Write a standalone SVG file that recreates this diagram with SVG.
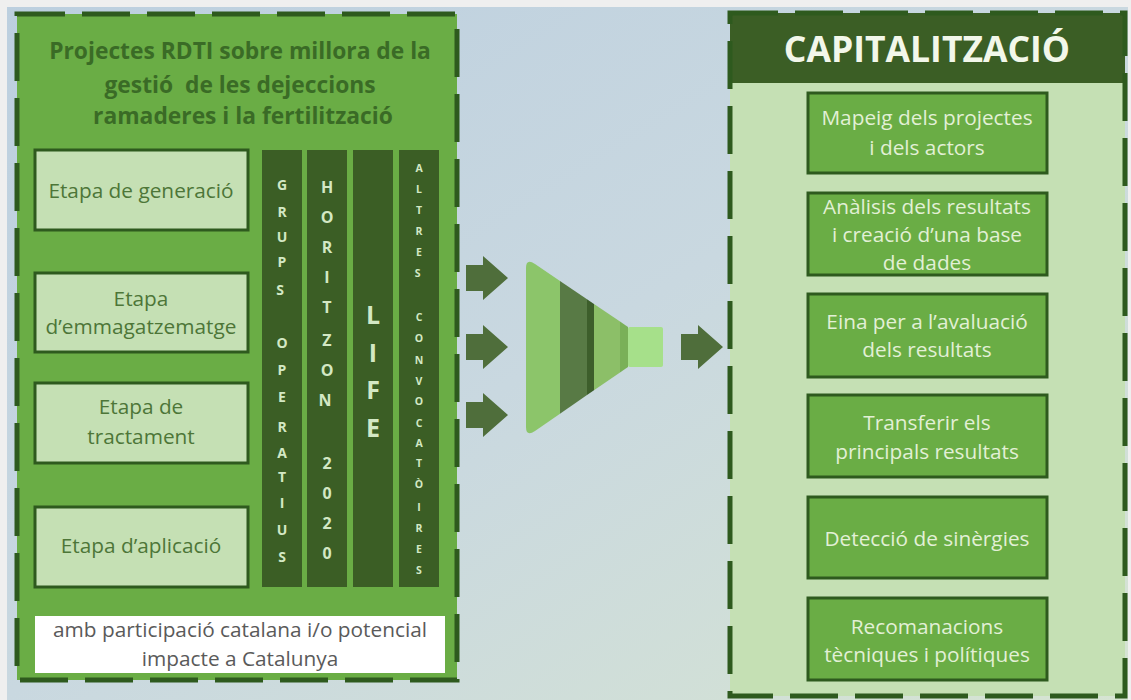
<svg xmlns="http://www.w3.org/2000/svg" width="1131" height="700" viewBox="0 0 1131 700">
<defs>
<linearGradient id="bg" x1="0" y1="0" x2="1" y2="1">
<stop offset="0" stop-color="#bccfdf"/>
<stop offset="0.5" stop-color="#c9d8e0"/>
<stop offset="1" stop-color="#d6e4d2"/>
</linearGradient>
<style>
.panel{stroke:#2e5a1e;stroke-width:5;stroke-dasharray:48 17}
.lbox{fill:#c5e0b4;stroke:#2e5a1e;stroke-width:3}
.rbox{fill:#6aad45;stroke:#2e5a1e;stroke-width:3}
.ltxt{font-family:"Open Sans","Liberation Sans",sans-serif;font-size:20.8px;fill:#4d7638;text-anchor:middle}
.rtxt{font-family:"Open Sans","Liberation Sans",sans-serif;font-size:20.8px;fill:#e2f0d6;text-anchor:middle}
.col{fill:#3b5e25}
.ctxt{font-family:"Open Sans","Liberation Sans",sans-serif;font-weight:bold;fill:#d3e8c4;text-anchor:middle}
.arrow{fill:#4f6e3b}
</style>
</defs>
<rect x="0" y="0" width="1131" height="700" fill="url(#bg)"/>
<rect x="0" y="0" width="1131" height="7" fill="#efefef"/>
<rect x="0" y="0" width="7" height="700" fill="#efefef"/>
<rect x="1128" y="0" width="3" height="700" fill="#efefef"/>

<g id="left-panel">
<rect class="panel" x="17" y="14" width="440" height="666" fill="#6aad45"/>
<text font-family="'Open Sans','Liberation Sans',sans-serif" font-weight="bold" font-size="22.8" fill="#3a6b26" text-anchor="middle">
<tspan x="243" y="59">Projectes RDTI sobre millora de la</tspan>
<tspan x="243" y="93" style="white-space:pre">gestió  de les dejeccions</tspan>
<tspan x="243" y="124">ramaderes i la fertilització</tspan>
</text>
</g>

<g id="etapa-generacio">
<rect class="lbox" x="35" y="150" width="213" height="80"/>
<text class="ltxt" x="141" y="198">Etapa de generació</text>
</g>
<g id="etapa-emmagatzematge">
<rect class="lbox" x="35" y="273" width="213" height="79"/>
<text class="ltxt" x="141" y="306">Etapa</text>
<text class="ltxt" x="141" y="334">d’emmagatzematge</text>
</g>
<g id="etapa-tractament">
<rect class="lbox" x="35" y="383" width="213" height="80"/>
<text class="ltxt" x="141" y="414">Etapa de</text>
<text class="ltxt" x="141" y="444">tractament</text>
</g>
<g id="etapa-aplicacio">
<rect class="lbox" x="35" y="507" width="213" height="80"/>
<text class="ltxt" x="141" y="553">Etapa d’aplicació</text>
</g>

<g id="grups-operatius">
<rect class="col" x="262" y="150" width="40" height="437"/>
<text class="ctxt" font-size="14" text-anchor="middle">
<tspan x="282" y="190">G</tspan><tspan x="282" y="217">R</tspan><tspan x="282" y="242">U</tspan><tspan x="282" y="267">P</tspan><tspan x="282" y="295">S</tspan>
<tspan x="282" y="348">O</tspan><tspan x="282" y="375">P</tspan><tspan x="282" y="402">E</tspan><tspan x="282" y="432">R</tspan><tspan x="282" y="458">A</tspan><tspan x="282" y="482">T</tspan><tspan x="282" y="508">I</tspan><tspan x="282" y="535">U</tspan><tspan x="282" y="562">S</tspan>
</text>
</g>
<g id="horitzon-2020">
<rect class="col" x="307" y="150" width="40" height="437"/>
<text class="ctxt" font-size="16">
<tspan x="327" y="193">H</tspan><tspan x="327" y="223">O</tspan><tspan x="327" y="253">R</tspan><tspan x="327" y="283">I</tspan><tspan x="327" y="313">T</tspan><tspan x="327" y="346">Z</tspan><tspan x="327" y="376">O</tspan><tspan x="327" y="406">N</tspan>
<tspan x="327" y="469">2</tspan><tspan x="327" y="499">0</tspan><tspan x="327" y="529">2</tspan><tspan x="327" y="559">0</tspan>
</text>
</g>
<g id="life">
<rect class="col" x="353" y="150" width="40" height="437"/>
<text class="ctxt" font-size="25" font-weight="normal" fill="#e2efd9">
<tspan x="373" y="324">L</tspan><tspan x="373" y="362">I</tspan><tspan x="373" y="399">F</tspan><tspan x="373" y="437">E</tspan>
</text>
</g>
<g id="altres-convocatories">
<rect class="col" x="399" y="150" width="40" height="437"/>
<text class="ctxt" font-size="10.5">
<tspan x="419" y="172">A</tspan><tspan x="419" y="193">L</tspan><tspan x="419" y="214">T</tspan><tspan x="419" y="235">R</tspan><tspan x="419" y="256">E</tspan><tspan x="419" y="277">S</tspan>
<tspan x="419" y="321">C</tspan><tspan x="419" y="342">O</tspan><tspan x="419" y="364">N</tspan><tspan x="419" y="385">V</tspan><tspan x="419" y="405">O</tspan><tspan x="419" y="427">C</tspan><tspan x="419" y="447">A</tspan><tspan x="419" y="467">T</tspan><tspan x="419" y="488">Ò</tspan><tspan x="419" y="511">I</tspan><tspan x="419" y="532">R</tspan><tspan x="419" y="553">E</tspan><tspan x="419" y="574">S</tspan>
</text>
</g>

<g id="participacio">
<rect x="35" y="616" width="410" height="57" fill="#ffffff"/>
<text class="ltxt" style="fill:#5a5a5a" x="240" y="637">amb participació catalana i/o potencial</text>
<text class="ltxt" style="fill:#5a5a5a" x="240" y="666">impacte a Catalunya</text>
</g>

<g id="funnel">
<path d="M526,268 Q526,258 535,264 L560,281 L560,413.7 L535,431 Q526,437 526,427 Z" fill="#8cc56a"/>
<path d="M560,281 L587,299.3 L587,395.1 L560,413.7 Z" fill="#587a45"/>
<path d="M587,299.3 L594,304 L594,390.3 L587,395.1 Z" fill="#3d5e2b"/>
<path d="M594,304 L620,321.6 L620,372.5 L594,390.3 Z" fill="#8cbf68"/>
<path d="M620,321.6 L628,327 L628,367 L620,372.5 Z" fill="#7ab058"/>
<rect x="628" y="327" width="35" height="40" rx="2" fill="#a6e08a"/>
</g>

<g id="connectors">
<path class="arrow" d="M466,265 L483,265 L483,256 L508,278 L483,300 L483,291 L466,291 Z"/>
<path class="arrow" d="M466,334 L483,334 L483,325 L508,347 L483,369 L483,360 L466,360 Z"/>
<path class="arrow" d="M466,402 L483,402 L483,393 L508,415 L483,437 L483,428 L466,428 Z"/>
<path class="arrow" d="M681,334 L698,334 L698,325 L723,347 L698,369 L698,360 L681,360 Z"/>
</g>

<g id="right-panel">
<rect x="730" y="13" width="395" height="683" fill="#c5e0b4"/>
<rect x="730" y="13" width="395" height="70" fill="#3b5e25"/>
<rect class="panel" x="730" y="13" width="395" height="683" fill="none"/>
<text x="927" y="62" font-family="'Open Sans','Liberation Sans',sans-serif" font-weight="bold" font-size="35.5" fill="#f2f7ea" text-anchor="middle">CAPITALITZACIÓ</text>
</g>

<g id="mapeig">
<rect class="rbox" x="808" y="93" width="239" height="80"/>
<text class="rtxt" x="927" y="125">Mapeig dels projectes</text>
<text class="rtxt" x="927" y="155">i dels actors</text>
</g>
<g id="analisi">
<rect class="rbox" x="808" y="193" width="239" height="82"/>
<text class="rtxt" x="927" y="214">Anàlisis dels resultats</text>
<text class="rtxt" x="927" y="242">i creació d’una base</text>
<text class="rtxt" x="927" y="270">de dades</text>
</g>
<g id="eina">
<rect class="rbox" x="808" y="294" width="239" height="83"/>
<text class="rtxt" x="927" y="329">Eina per a l’avaluació</text>
<text class="rtxt" x="927" y="357">dels resultats</text>
</g>
<g id="transferir">
<rect class="rbox" x="808" y="395" width="239" height="82"/>
<text class="rtxt" x="927" y="430">Transferir els</text>
<text class="rtxt" x="927" y="459">principals resultats</text>
</g>
<g id="deteccio">
<rect class="rbox" x="808" y="497" width="239" height="81"/>
<text class="rtxt" x="927" y="546">Detecció de sinèrgies</text>
</g>
<g id="recomanacions">
<rect class="rbox" x="808" y="598" width="239" height="82"/>
<text class="rtxt" x="927" y="634">Recomanacions</text>
<text class="rtxt" x="927" y="662">tècniques i polítiques</text>
</g>
</svg>
